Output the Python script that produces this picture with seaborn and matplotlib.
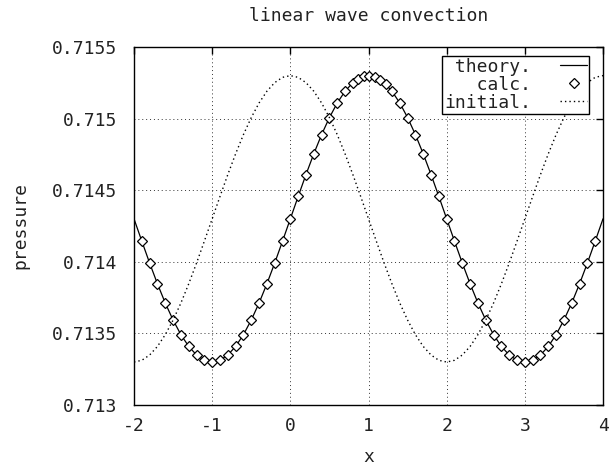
import numpy as np
import pandas as pd
import matplotlib
matplotlib.use("Agg")
import matplotlib.pyplot as plt
import seaborn as sns

# ---------------- data ----------------
x_grid = [round(-2.0 + 0.1 * i, 1) for i in range(61)]

theory_p = [
    0.714300, 0.714144, 0.713991, 0.713846, 0.713712, 0.713593, 0.713491, 0.713409, 0.713349, 0.713312,
    0.713300, 0.713312, 0.713349, 0.713409, 0.713491, 0.713593, 0.713712, 0.713846, 0.713991, 0.714144,
    0.714300, 0.714456, 0.714609, 0.714754, 0.714888, 0.715007, 0.715109, 0.715191, 0.715251, 0.715288,
    0.715300, 0.715288, 0.715251, 0.715191, 0.715109, 0.715007, 0.714888, 0.714754, 0.714609, 0.714456,
    0.714300, 0.714144, 0.713991, 0.713846, 0.713712, 0.713593, 0.713491, 0.713409, 0.713349, 0.713312,
    0.713300, 0.713312, 0.713349, 0.713409, 0.713491, 0.713593, 0.713712, 0.713846, 0.713991, 0.714144,
    0.714300,
]

initial_p = [
    0.713300, 0.713312, 0.713349, 0.713409, 0.713491, 0.713593, 0.713712, 0.713846, 0.713991, 0.714144,
    0.714300, 0.714456, 0.714609, 0.714754, 0.714888, 0.715007, 0.715109, 0.715191, 0.715251, 0.715288,
    0.715300, 0.715288, 0.715251, 0.715191, 0.715109, 0.715007, 0.714888, 0.714754, 0.714609, 0.714456,
    0.714300, 0.714144, 0.713991, 0.713846, 0.713712, 0.713593, 0.713491, 0.713409, 0.713349, 0.713312,
    0.713300, 0.713312, 0.713349, 0.713409, 0.713491, 0.713593, 0.713712, 0.713846, 0.713991, 0.714144,
    0.714300, 0.714456, 0.714609, 0.714754, 0.714888, 0.715007, 0.715109, 0.715191, 0.715251, 0.715288,
    0.715300,
]

calc_x = [
    -1.9, -1.8, -1.7, -1.6, -1.5, -1.4, -1.3, -1.2, -1.1, -1.0,
    -0.9, -0.8, -0.7, -0.6, -0.5, -0.4, -0.3, -0.2, -0.1, 0.0,
    0.1, 0.2, 0.3, 0.4, 0.5, 0.6, 0.7, 0.8,
    0.87, 0.94, 1.01, 1.08, 1.15, 1.22,
    1.3, 1.4, 1.5, 1.6, 1.7, 1.8, 1.9, 2.0,
    2.1, 2.2, 2.3, 2.4, 2.5, 2.6, 2.7, 2.8, 2.9, 3.0,
    3.1, 3.2, 3.3, 3.4, 3.5, 3.6, 3.7, 3.8, 3.9,
]
calc_p = [
    0.714144, 0.713991, 0.713846, 0.713712, 0.713593, 0.713491, 0.713409, 0.713349, 0.713312, 0.713300,
    0.713312, 0.713349, 0.713409, 0.713491, 0.713593, 0.713712, 0.713846, 0.713991, 0.714144, 0.714300,
    0.714456, 0.714609, 0.714754, 0.714888, 0.715007, 0.715109, 0.715191, 0.715251,
    0.715279, 0.715296, 0.715300, 0.715292, 0.715272, 0.715241,
    0.715191, 0.715109, 0.715007, 0.714888, 0.714754, 0.714609, 0.714456, 0.714300,
    0.714144, 0.713991, 0.713846, 0.713712, 0.713593, 0.713491, 0.713409, 0.713349, 0.713312, 0.713300,
    0.713312, 0.713349, 0.713409, 0.713491, 0.713593, 0.713712, 0.713846, 0.713991, 0.714144,
]

x_ticks = [-2, -1, 0, 1, 2, 3, 4]
x_tick_labels = ["-2", "-1", "0", "1", "2", "3", "4"]
y_ticks = [0.713, 0.7135, 0.714, 0.7145, 0.715, 0.7155]
y_tick_labels = ["0.713", "0.7135", "0.714", "0.7145", "0.715", "0.7155"]

title_text = "linear wave convection"
x_label = "x"
y_label = "pressure"
legend_labels = [" theory.", "   calc.", "initial."]

# ---------------- style ----------------
sns.set_theme(style="white")
plt.rcParams["font.family"] = ["DejaVu Sans Mono", "DejaVu Sans"]
plt.rcParams["axes.edgecolor"] = "black"
plt.rcParams["axes.linewidth"] = 1.0

FS = 13
TXT = "#222222"

curves = pd.DataFrame({"x": x_grid, "theory": theory_p, "initial": initial_p})
calc = pd.DataFrame({"x": calc_x, "p": calc_p})

fig = plt.figure(figsize=(6.13, 4.67), dpi=100)
ax = fig.add_axes([0.2186, 0.1328, 0.7651, 0.7666])

sns.lineplot(data=curves, x="x", y="theory", ax=ax, color="black", lw=0.9,
             label=legend_labels[0], legend=False)
sns.lineplot(data=calc, x="x", y="p", ax=ax, color="black", lw=0, marker="D",
             markersize=4.6, markerfacecolor="white", markeredgecolor="black",
             markeredgewidth=0.9, label=legend_labels[1], legend=False)
sns.lineplot(data=curves, x="x", y="initial", ax=ax, color="black", lw=1.0,
             linestyle=(0, (1, 2.2)), label=legend_labels[2], legend=False)

ax.set_xlim(-2, 4)
ax.set_ylim(0.713, 0.7155)
ax.set_xticks(x_ticks)
ax.set_xticklabels(x_tick_labels)
ax.set_yticks(y_ticks)
ax.set_yticklabels(y_tick_labels)

ax.grid(True, color="black", linestyle=(0, (1, 3)), linewidth=0.7, alpha=0.8)
ax.tick_params(axis="both", which="major", direction="in", length=5, width=1,
               top=True, right=True, labelsize=FS, labelcolor=TXT, color="black", pad=9)
ax.tick_params(axis="y", pad=12)

ax.set_title(title_text, fontsize=FS, pad=19, color=TXT)
ax.set_xlabel(x_label, fontsize=FS, labelpad=9, color=TXT)
ax.set_ylabel(y_label, fontsize=FS, labelpad=16, color=TXT)

handles, labels = ax.get_legend_handles_labels()
leg = ax.legend(handles, labels, loc="upper right", bbox_to_anchor=(0.97, 0.975),
                markerfirst=False, frameon=True, fancybox=False, shadow=False,
                framealpha=1.0, edgecolor="black", fontsize=FS, handlelength=1.5,
                handletextpad=1.6, borderpad=0.1, labelspacing=0.0,
                borderaxespad=0.0)
leg.get_frame().set_linewidth(1.0)
for t in leg.get_texts():
    t.set_color(TXT)

for sp in ax.spines.values():
    sp.set_visible(True)
    sp.set_color("black")

fig.savefig("out.png", dpi=100)
